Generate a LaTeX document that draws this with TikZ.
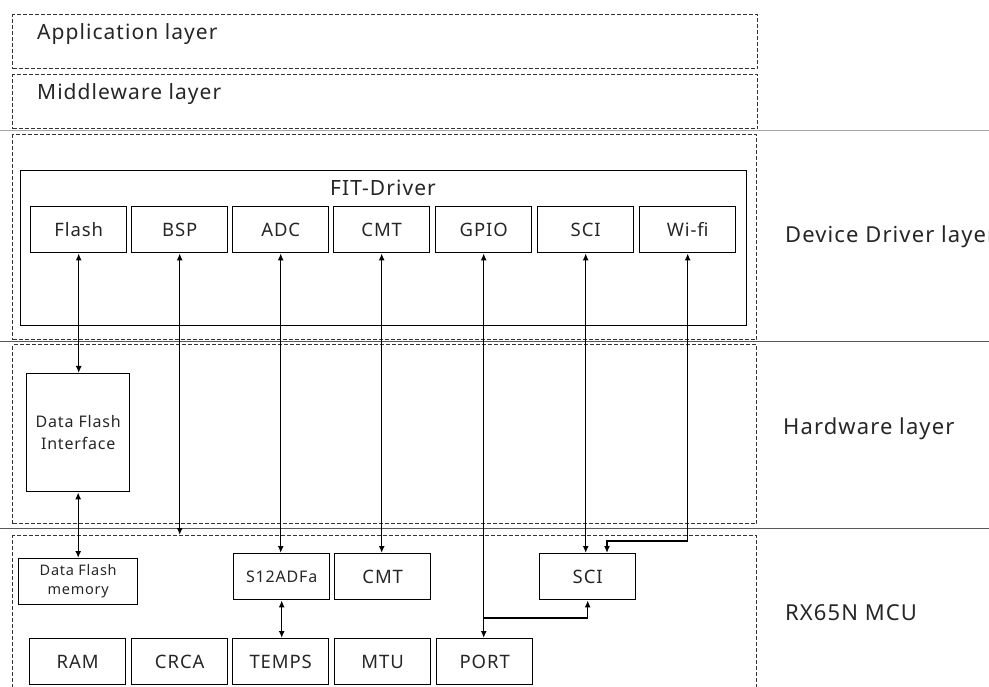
\documentclass[tikz,border=0pt]{standalone}
\usepackage{fontspec}
\setmainfont{Noto Sans}[LetterSpace=5]
\usetikzlibrary{arrows.meta}

\tikzset{
	>={Latex[length=7pt,width=6pt]},
	layer/.style={draw=black!80, dash pattern=on 4pt off 2pt, line width=1.3pt, anchor=north west, inner sep=0pt},
	mod/.style={draw, line width=1.4pt, anchor=north west, inner sep=0pt, minimum width=96, minimum height=46, text=black!85, font=\fontsize{18.5}{18.5}\selectfont},
	lbl/.style={anchor=base west, inner sep=0pt, text=black!85, font=\fontsize{21}{21}\selectfont},
	sep/.style={line width=1pt},
	link/.style={line width=1.4pt, <->},
	tolink/.style={line width=1.4pt, ->},
}

\begin{document}
\begin{tikzpicture}[x=1pt, y=-1pt]
	\clip (0,0) rectangle (989,687);

	\draw[sep, color=black!35] (0,131) -- (989,131);
	\draw[sep, color=black!65] (0,342) -- (989,342);
	\draw[sep, color=black!65] (0,528) -- (989,528);

	\node[layer, minimum width=745, minimum height=54] (app) at (12,14) {};
	\node[layer, minimum width=745, minimum height=54] (mid) at (12,74) {};
	\node[layer, minimum width=744, minimum height=205] (drv) at (12,134) {};
	\node[layer, minimum width=744, minimum height=179] (hw) at (12,344) {};
	\node[layer, minimum width=744, minimum height=170] (mcu) at (12,535) {};

	\node[lbl] (applbl) at (37,40) {Application layer};
	\node[lbl] (midlbl) at (37,100) {Middleware layer};
	\node[lbl, font=\fontsize{22}{22}\selectfont] (drvlbl) at (785,243) {Device Driver layer};
	\node[lbl, font=\fontsize{22}{22}\selectfont] (hwlbl) at (783,434) {Hardware layer};
	\node[lbl, font=\fontsize{22}{22}\selectfont] (mculbl) at (785,620) {RX65N MCU};

	\node[draw, line width=1.4pt, anchor=north west, inner sep=0pt, minimum width=726, minimum height=155] (fit) at (20,170) {};
	\node[lbl, anchor=base] (fitlbl) at (383,196) {FIT-Driver};

	\node[mod] (flash) at (30,206) {Flash};
	\node[mod] (bsp) at (131,206) {BSP};
	\node[mod] (adc) at (232,206) {ADC};
	\node[mod] (cmt) at (333,206) {CMT};
	\node[mod] (gpio) at (435,206) {GPIO};
	\node[mod] (sci) at (537,206) {SCI};
	\node[mod] (wifi) at (639,206) {Wi-fi};

	\node[mod, minimum width=103, minimum height=118, align=center, font=\fontsize{16}{22}\selectfont] (dfi) at (26,373) {Data Flash\\Interface};

	\node[mod, minimum width=119, align=center, font=\fontsize{14.5}{19}\selectfont] (dfmem) at (18,558) {Data Flash\\memory};
	\node[mod, font=\fontsize{16}{16}\selectfont] (s12) at (233,553) {S12ADFa};
	\node[mod] (cmtm) at (334,553) {CMT};
	\node[mod] (scim) at (539,553) {SCI};

	\node[mod] (ram) at (29,638) {RAM};
	\node[mod] (crca) at (131,638) {CRCA};
	\node[mod] (temps) at (232,638) {TEMPS};
	\node[mod] (mtu) at (334,638) {MTU};
	\node[mod] (port) at (436,638) {PORT};

	\coordinate (split) at (484,618);
	\coordinate (wbend) at (607,541);

	\draw[link] (flash.south) -- (flash.south |- dfi.north);
	\draw[link] (dfi.south) -- (dfi.south |- dfmem.north);
	\draw[link] (bsp.south) -- (bsp.south |- mcu.north);
	\draw[link] (adc.south) -- (adc.south |- s12.north);
	\draw[link] (cmt.south) -- (cmt.south |- cmtm.north);
	\draw[link] (s12.south) -- (s12.south |- temps.north);
	\draw[link] (gpio.south) -- (gpio.south |- port.north);
	\draw[tolink] (split) -| (scim.south);
	\draw[link] (sci.south) -- (sci.south |- scim.north);
	\draw[link] (wifi.south) |- (wbend) -- (wbend |- scim.north);
\end{tikzpicture}
\end{document}
